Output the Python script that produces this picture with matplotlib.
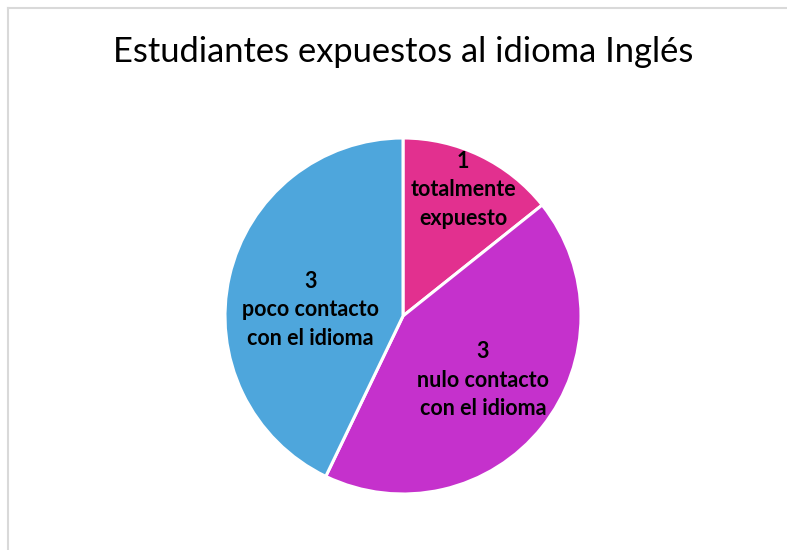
import matplotlib
matplotlib.use("Agg")
import matplotlib.pyplot as plt
from matplotlib.lines import Line2D

title = "Estudiantes expuestos al idioma Inglés"
categories = ["totalmente\nexpuesto", "nulo contacto\ncon el idioma", "poco contacto\ncon el idioma"]
values = [1, 3, 3]
colors = ["#E2308F", "#C531CC", "#4EA6DC"]
label_pos = [(0.337, 0.708), (0.449, -0.36), (-0.522, 0.034)]

plt.rcParams['font.family'] = ['Lato', 'DejaVu Sans']

fig = plt.figure(figsize=(7.87, 5.5), dpi=100)
fig.patch.set_facecolor("white")

# border (top & left visible)
fig.add_artist(Line2D([7.5/787, 7.5/787], [0, 1-8/550], transform=fig.transFigure, color="#D9D9D9", lw=1.5))
fig.add_artist(Line2D([7.5/787, 1], [1-8/550, 1-8/550], transform=fig.transFigure, color="#D9D9D9", lw=1.5))

cx, cy, r = 403, 316, 178
ax = fig.add_axes([(cx - r)/787, 1 - (cy + r)/550, 2*r/787, 2*r/550])
wedges, _ = ax.pie(values, colors=colors, startangle=90, counterclock=False,
                   wedgeprops=dict(edgecolor="white", linewidth=2.2))
ax.set_xlim(-1, 1); ax.set_ylim(-1, 1)
ax.set_aspect("equal")

for v, cat, (x, y) in zip(values, categories, label_pos):
    ax.text(x, y, f"{v}\n{cat}", ha="center", va="center", fontsize=15.5,
            fontweight="bold", color="black", linespacing=1.45)

fig.text(403/787, 1 - 52/550, title, ha="center", va="center", fontsize=24.8, color="black")

fig.savefig("out.png", dpi=100)
